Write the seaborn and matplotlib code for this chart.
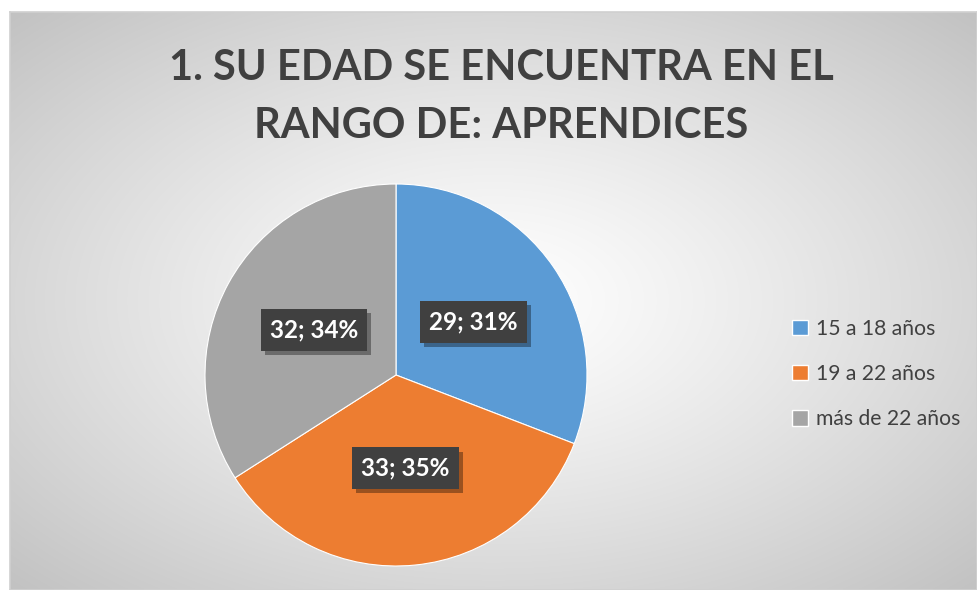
import numpy as np
import matplotlib
matplotlib.use("Agg")
import matplotlib.pyplot as plt
import matplotlib.patheffects as pe
import seaborn as sns

categories = ["15 a 18 años", "19 a 22 años", "más de 22 años"]
values = [29, 33, 32]
colors = ["#5B9BD5", "#ED7D31", "#A5A5A5"]
title_lines = ["1. SU EDAD SE ENCUENTRA EN EL", "RANGO DE: APRENDICES"]

sns.set_theme(style="white")
plt.rcParams['font.family'] = ['Lato', 'DejaVu Sans']

W, H = 977, 590
fig = plt.figure(figsize=(W/100, H/100), dpi=100)
fig.patch.set_facecolor("white")

# Chart area with radial gradient
x0, y0 = 10/W, 0.0
bw, bh = (W-10)/W, (H-12)/H
bg = fig.add_axes([x0, y0, bw, bh])
nx, ny = 400, 240
xx, yy = np.meshgrid(np.linspace(-1, 1, nx), np.linspace(-1, 1, ny))
r = np.sqrt(xx**2 + yy**2) / np.sqrt(2)
g = 1.0 - 0.24 * r**1.2
img = np.dstack([g, g, g])
bg.imshow(img, extent=[0, 1, 0, 1], aspect="auto", interpolation="bilinear")
bg.set_xlim(0, 1); bg.set_ylim(0, 1)
bg.set_xticks([]); bg.set_yticks([])
for s in bg.spines.values():
    s.set_color("#d0d0d0"); s.set_linewidth(1.2)

# Title (two lines, baselines placed separately)
for line, base in zip(title_lines, [80, 138]):
    fig.text(501/W, 1 - base/H, line, ha="center", va="baseline", fontsize=30,
             fontweight="bold", color="#404040")

# Pie
cx, cy, rad = 396, 375, 191
ax = fig.add_axes([(cx-rad)/W, (H-cy-rad)/H, 2*rad/W, 2*rad/H])
wedges, texts, autotexts = ax.pie(
    values, colors=colors, startangle=90, counterclock=False, radius=1,
    autopct=lambda p: f"{int(round(p*sum(values)/100))}; {p:.0f}%",
    pctdistance=0.49, wedgeprops=dict(linewidth=0.8, edgecolor="white"),
    textprops=dict(color="white", fontsize=17.5, fontweight="bold"))
ax.set_xlim(-1, 1); ax.set_ylim(-1, 1)
ax.set_aspect("equal")
ax.axis("off")
for t in autotexts:
    t.set_bbox(dict(boxstyle="square,pad=0.38", facecolor="#404040", edgecolor="none"))
    t.get_bbox_patch().set_path_effects([
        pe.SimplePatchShadow(offset=(3, -3), shadow_rgbFace="black", alpha=0.35),
        pe.Normal()])

# Legend
handles = [plt.Rectangle((0, 0), 1, 1, facecolor=c) for c in colors]
leg = fig.legend(handles, categories, loc="center left",
                 bbox_to_anchor=(773/W, 1 - 374/H), frameon=False,
                 fontsize=15.2, labelcolor="#404040", handlelength=0.75,
                 handleheight=0.75, handletextpad=0.4, labelspacing=1.2)

fig.savefig("out.png", dpi=100)
